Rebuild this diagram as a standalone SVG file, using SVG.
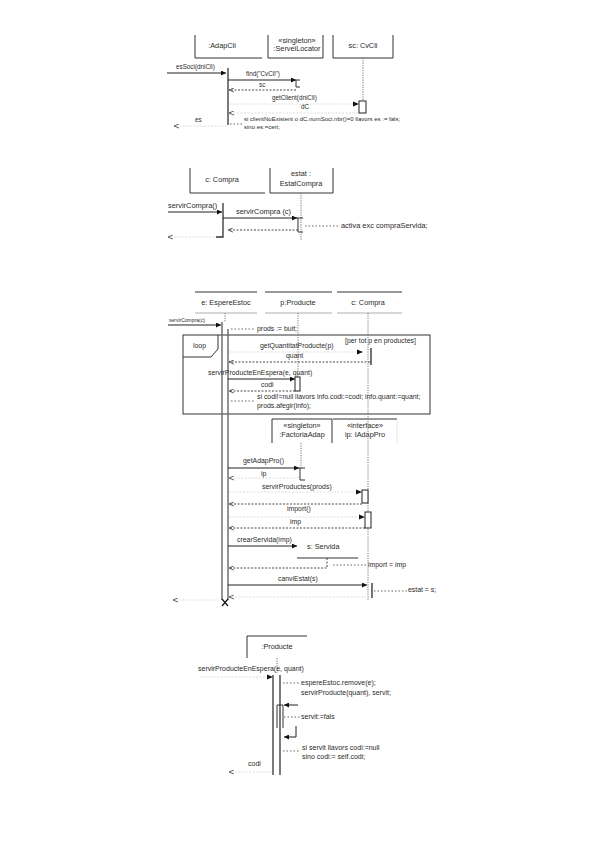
<svg xmlns="http://www.w3.org/2000/svg" width="599" height="848" viewBox="0 0 599 848">
<style>
text{font-family:"Liberation Sans",Arial,sans-serif;font-size:6.3px;fill:#2a2a2a}
.c{text-anchor:middle}
.bx{font-size:7.3px}
.s2{font-size:7.4px}
.s3{font-size:6.9px}
.s4{font-size:7px}
.edge{fill:none;stroke:#333;stroke-width:1}
.msg{fill:none;stroke:#222;stroke-width:1}
.ret{fill:none;stroke:#333;stroke-width:0.9;stroke-dasharray:2,1.5}
.faint{fill:none;stroke:#d4d4d4;stroke-width:0.8;stroke-dasharray:2,1.5}
.life{fill:none;stroke:#777;stroke-width:1;stroke-dasharray:1.2,1.2}
.dot{fill:none;stroke:#555;stroke-width:0.9;stroke-dasharray:1.5,2}
.act{fill:none;stroke:#333;stroke-width:1.3}
.act2{fill:none;stroke:#666;stroke-width:1.4}
.abox{fill:#fff;stroke:#222;stroke-width:1}
</style>
<defs>
<marker id="fa" viewBox="0 0 6 6" refX="6" refY="3" markerWidth="5" markerHeight="5" orient="auto" markerUnits="userSpaceOnUse">
<path d="M0,0 L6,3 L0,6 z" fill="#111"/>
</marker>
<marker id="oa" viewBox="0 0 6 6" refX="6" refY="3" markerWidth="5" markerHeight="5" orient="auto" markerUnits="userSpaceOnUse">
<path d="M0,0.5 L6,3 L0,5.5" fill="none" stroke="#333" stroke-width="0.9"/>
</marker>
</defs>

<!-- Section 1 -->
<g id="adapcli"><path class="edge" d="M195,35 V58 H262"/><text class="c bx" x="222" y="48">:AdapCli</text></g>
<g id="serveilocator"><path class="edge" d="M268,35 V58 H323 V35"/><text class="c bx" x="297" y="43">«singleton»</text><text class="c bx" x="297" y="51">:ServeiLocator</text></g>
<g id="cvcli"><path class="edge" d="M333,35 V58 H393 V35"/><text class="c bx" x="363" y="48">sc: CvCli</text></g>

<!-- Section 2 -->
<g id="compra1"><path class="edge" d="M190,168 V193 H265"/><text class="c bx" x="222" y="182">c: Compra</text></g>
<g id="estatcompra"><path class="edge" d="M270,168 V193 H333 V168"/><text class="c bx" x="301" y="176">estat :</text><text class="c bx" x="301" y="186">EstatCompra</text></g>

<!-- Section 3 -->
<g id="esperaestoc"><path class="edge" d="M195,292 H257"/><path d="M195,313 H257" stroke="#999" stroke-width="0.8"/><text class="c bx" x="226" y="305">e: EspereEstoc</text></g>
<g id="producte"><path class="edge" d="M265,292 H332"/><path d="M265,313 H332" stroke="#999" stroke-width="0.8"/><text class="c bx" x="298" y="305">p:Producte</text></g>
<g id="compra2"><path class="edge" d="M337,292 H402"/><path d="M337,313 H402" stroke="#999" stroke-width="0.8"/><text class="c bx" x="368" y="305">c: Compra</text></g>
<g id="loop"><rect x="183" y="335" width="247" height="79" fill="none" stroke="#333" stroke-width="1"/><path class="edge" d="M183,357 H211 L218,349 V335"/><text class="s3" x="193" y="348">loop</text><text class="s3" x="345" y="343">[per tot p en productes]</text></g>
<g id="factoria"><path class="edge" d="M272,443 V419 H332 V443"/><text class="c bx" x="302" y="428">«singleton»</text><text class="c bx" x="302" y="437">:FactoriaAdap</text></g>
<g id="iadappro"><path class="edge" d="M333,419 H397"/><path d="M397,419 V443" stroke="#ddd" stroke-width="0.8"/><text class="c bx" x="365" y="428">«interface»</text><text class="c bx" x="365" y="437">ip: IAdapPro</text></g>
<g id="servida"><path class="edge" d="M297,558 H358"/><text class="bx" x="307" y="549">s: Servida</text></g>

<!-- Section 4 -->
<g id="producte2"><path class="edge" d="M247,658 V636 H307"/><text class="c bx" x="277" y="649">:Producte</text></g>

<g id="connectors">
<!-- S1 -->
<path class="life" d="M363,58 V101"/>
<path class="act" d="M228,68 V125"/>
<path class="msg" d="M167,73 H226" marker-end="url(#fa)"/>
<text x="176" y="69">esSoci(dniCli)</text>
<path class="msg" d="M228,80 H296" marker-end="url(#fa)"/>
<path class="edge" d="M296,80 H300 M296,80 V87 H300"/>
<text x="246" y="76">find("CvCli")</text>
<path class="ret" d="M296,90 H229" marker-end="url(#oa)"/>
<text x="259" y="87">sc</text>
<text x="272" y="100">getClient(dniCli)</text>
<path class="faint" d="M229,104 H358"/>
<polygon points="353,101.5 359,104 353,106.5" fill="#111"/>
<rect class="abox" x="359" y="101" width="7" height="12"/>
<text x="301" y="109">dC</text>
<path class="faint" d="M358,113 H229" marker-end="url(#oa)"/>
<text x="195" y="122">es</text>
<path class="faint" d="M227,126 H174" marker-end="url(#oa)"/>
<path class="dot" d="M230,124 H243"/>
<text x="244" y="121" style="font-size:6px">si clientNoExistent o dC.numSoci.nbr()=0 llavors es := fals;</text>
<text x="244" y="129" style="font-size:6px">sino es:=cert;</text>
<!-- S2 -->
<path class="life" d="M301,193 V240" stroke="#e6e6e6"/>
<path class="msg" d="M168,212 H222" marker-end="url(#fa)"/>
<text class="s2" x="168" y="208">servirCompra()</text>
<path class="act" d="M216,237 H223 V203"/>
<path class="msg" d="M223,218 H297" marker-end="url(#fa)"/>
<text class="s2" x="236" y="214">servirCompra (c)</text>
<path class="edge" d="M296,218 H303 M298,218 V232 H303"/>
<path class="ret" d="M298,230 H228" marker-end="url(#oa)"/>
<path class="dot" d="M305,226 H340"/>
<text class="s2" x="341" y="228">activa exc compraServida;</text>
<path class="faint" d="M215,237 H168" marker-end="url(#oa)"/>
<!-- S3 -->
<path class="life" d="M225,313 V322"/>
<path class="life" d="M298,313 V377"/>
<path class="life" d="M368,313 V600"/>
<path class="act2" d="M222,322 V600"/>
<path class="act2" d="M228,329 V600"/>
<path class="msg" d="M168,325 H221" marker-end="url(#fa)"/>
<text x="169" y="322" style="font-size:5px">servirCompra(c)</text>
<path class="dot" d="M231,329 H255"/>
<text class="s3" x="257" y="331">prods := buit;</text>
<text class="s3" x="260" y="348">getQuantitatProducte(p)</text>
<path class="faint" d="M229,352 H362"/>
<polygon points="357,349.5 363,352 357,354.5" fill="#111"/>
<path d="M371,348 V365" stroke="#444" stroke-width="1.5"/>
<text class="s3" x="286" y="358">quant</text>
<path class="ret" d="M370,362 H229" marker-end="url(#oa)"/>
<text class="s3" x="208" y="375">servirProducteEnEspera(e, quant)</text>
<path class="msg" d="M228,379 H295" marker-end="url(#fa)"/>
<rect class="abox" x="295" y="377" width="5" height="14"/>
<text class="s3" x="261" y="387">codi</text>
<path class="ret" d="M295,391 H229" marker-end="url(#oa)"/>
<path class="dot" d="M231,401 H255"/>
<text class="s3" x="257" y="399">si codi!=null llavors info.codi:=codi; info.quant:=quant;</text>
<text class="s3" x="257" y="408">prods.afegir(info);</text>
<path class="life" d="M301,443 V468"/>
<text class="s3" x="243" y="463">getAdapPro()</text>
<path class="msg" d="M228,468 H299" marker-end="url(#fa)"/>
<path class="edge" d="M298,468 H305 M300,468 V480 H305"/>
<text class="s3" x="261" y="476">ip</text>
<path class="faint" d="M299,478 H229" marker-end="url(#oa)"/>
<text class="s3" x="262" y="489">servirProductes(prods)</text>
<path class="faint" d="M229,492 H361"/>
<polygon points="356,489.5 362,492 356,494.5" fill="#111"/>
<rect class="abox" x="362" y="490" width="6" height="13"/>
<path class="ret" d="M362,504 H229" marker-end="url(#oa)"/>
<text class="s3" x="287" y="511">import()</text>
<path class="faint" d="M229,517 H364"/>
<polygon points="359,514.5 365,517 359,519.5" fill="#111"/>
<rect class="abox" x="365" y="512" width="6" height="16"/>
<text class="s3" x="290" y="524">imp</text>
<path class="ret" d="M365,528 H229" marker-end="url(#oa)"/>
<text class="s3" x="237" y="542">crearServida(imp)</text>
<path class="msg" d="M228,546 H297" marker-end="url(#fa)"/>
<path class="ret" d="M327,558 V568 H229" marker-end="url(#oa)"/>
<path class="dot" d="M333,565 H367"/>
<text class="s3" x="368" y="567">import = imp</text>
<text class="s3" x="278" y="581">canviEstat(s)</text>
<path class="msg" d="M228,585 H367" marker-end="url(#fa)"/>
<path d="M372,583 V598" stroke="#444" stroke-width="1.5"/>
<path class="dot" d="M374,591 H407"/>
<text class="s3" x="408" y="592">estat = s;</text>
<path class="faint" d="M370,597 H229" marker-end="url(#oa)"/>
<path d="M222,599 L228,606 M228,599 L222,606" stroke="#111" stroke-width="1.2"/>
<path class="faint" d="M219,600 H173" marker-end="url(#oa)"/>
<!-- S4 -->
<path class="life" d="M277,658 V673"/>
<text class="s4" x="198" y="671">servirProducteEnEspera(e, quant)</text>
<path class="faint" d="M200,677 H271"/>
<polygon points="267,674.5 273,677 267,679.5" fill="#111"/>
<path class="act" d="M273,675 V775"/>
<path class="act" d="M280,675 V775"/>
<path class="dot" d="M283,683 H300"/>
<text class="s4" x="301" y="685">espereEstoc.remove(e);</text>
<text class="s4" x="301" y="695">servirProducte(quant), servit;</text>
<path class="edge" d="M277,728 V705 H283 V728"/>
<path class="msg" d="M298,705 H284" marker-end="url(#fa)"/>
<path class="msg" d="M296,726 V737 H284" marker-end="url(#fa)"/>
<path class="dot" d="M284,717 H300"/>
<text class="s4" x="301" y="719">servit:=fals</text>
<path class="dot" d="M283,751 H300"/>
<text class="s4" x="302" y="750">si servit llavors codi:=null</text>
<text class="s4" x="302" y="759">sino codi:= self.codi;</text>
<text class="s4" x="248" y="766">codi</text>
<path class="faint" d="M272,772 H229" marker-end="url(#oa)"/>
</g>
</svg>
